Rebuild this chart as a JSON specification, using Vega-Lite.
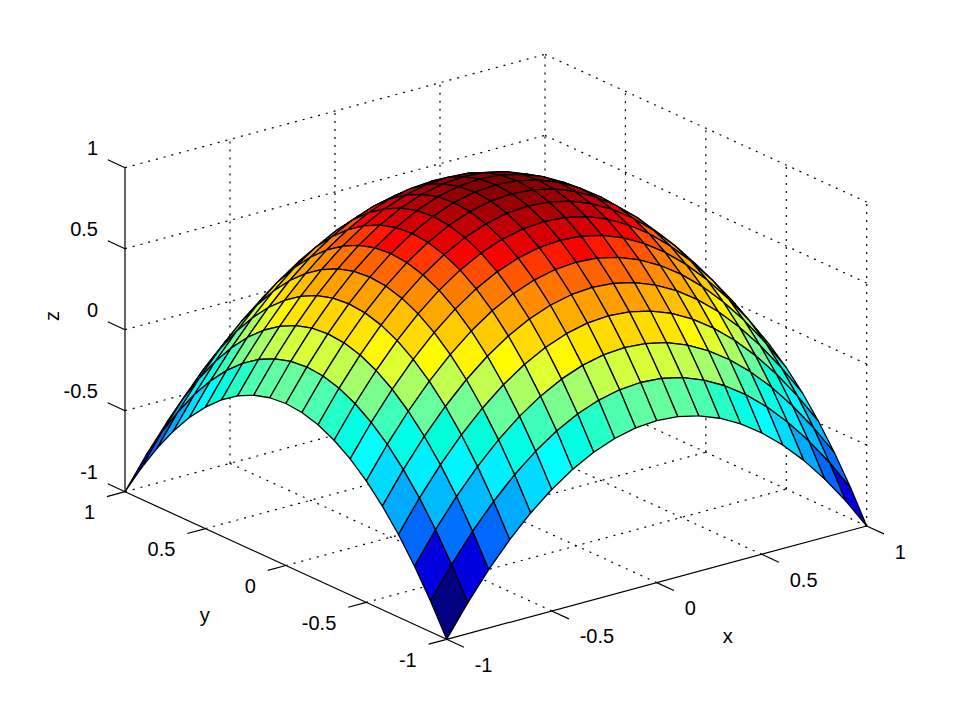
{
"$schema": "https://vega.github.io/schema/vega-lite/v6.json",
"width": 958,
"height": 719,
"padding": 0,
"autosize": {"type": "none"},
"background": "white",
"config": {"view": {"stroke": null}, "text": {"font": "Liberation Sans", "color": "black"}},
"datasets": {
"frame": [
{"line":"g1","x":-0.5,"y":-1,"z":-1},{"line":"g1","x":-0.5,"y":1,"z":-1},
{"line":"g2","x":0,"y":-1,"z":-1},{"line":"g2","x":0,"y":1,"z":-1},
{"line":"g3","x":0.5,"y":-1,"z":-1},{"line":"g3","x":0.5,"y":1,"z":-1},
{"line":"g4","x":1,"y":-1,"z":-1},{"line":"g4","x":1,"y":1,"z":-1},
{"line":"g5","x":-1,"y":-0.5,"z":-1},{"line":"g5","x":1,"y":-0.5,"z":-1},
{"line":"g6","x":-1,"y":0,"z":-1},{"line":"g6","x":1,"y":0,"z":-1},
{"line":"g7","x":-1,"y":0.5,"z":-1},{"line":"g7","x":1,"y":0.5,"z":-1},
{"line":"g8","x":-1,"y":1,"z":-1},{"line":"g8","x":1,"y":1,"z":-1},
{"line":"g9","x":-0.5,"y":1,"z":-1},{"line":"g9","x":-0.5,"y":1,"z":1},
{"line":"g10","x":0,"y":1,"z":-1},{"line":"g10","x":0,"y":1,"z":1},
{"line":"g11","x":0.5,"y":1,"z":-1},{"line":"g11","x":0.5,"y":1,"z":1},
{"line":"g12","x":1,"y":1,"z":-1},{"line":"g12","x":1,"y":1,"z":1},
{"line":"g13","x":-1,"y":1,"z":-0.5},{"line":"g13","x":1,"y":1,"z":-0.5},
{"line":"g14","x":-1,"y":1,"z":0},{"line":"g14","x":1,"y":1,"z":0},
{"line":"g15","x":-1,"y":1,"z":0.5},{"line":"g15","x":1,"y":1,"z":0.5},
{"line":"g16","x":-1,"y":1,"z":1},{"line":"g16","x":1,"y":1,"z":1},
{"line":"g17","x":1,"y":-1,"z":-1},{"line":"g17","x":1,"y":-1,"z":1},
{"line":"g18","x":1,"y":-0.5,"z":-1},{"line":"g18","x":1,"y":-0.5,"z":1},
{"line":"g19","x":1,"y":0,"z":-1},{"line":"g19","x":1,"y":0,"z":1},
{"line":"g20","x":1,"y":0.5,"z":-1},{"line":"g20","x":1,"y":0.5,"z":1},
{"line":"g21","x":1,"y":-1,"z":-0.5},{"line":"g21","x":1,"y":1,"z":-0.5},
{"line":"g22","x":1,"y":-1,"z":0},{"line":"g22","x":1,"y":1,"z":0},
{"line":"g23","x":1,"y":-1,"z":0.5},{"line":"g23","x":1,"y":1,"z":0.5},
{"line":"g24","x":1,"y":-1,"z":1},{"line":"g24","x":1,"y":1,"z":1}
],
"axes": [
{"line":"xaxis","x":-1,"y":-1,"z":-1},{"line":"xaxis","x":1,"y":-1,"z":-1},
{"line":"yaxis","x":-1,"y":-1,"z":-1},{"line":"yaxis","x":-1,"y":1,"z":-1},
{"line":"zaxis","x":-1,"y":1,"z":-1},{"line":"zaxis","x":-1,"y":1,"z":1},
{"line":"xt1","x":-1,"y":-1,"z":-1},{"line":"xt1","x":-1,"y":-1.107,"z":-1},
{"line":"xt2","x":-0.5,"y":-1,"z":-1},{"line":"xt2","x":-0.5,"y":-1.107,"z":-1},
{"line":"xt3","x":0,"y":-1,"z":-1},{"line":"xt3","x":0,"y":-1.107,"z":-1},
{"line":"xt4","x":0.5,"y":-1,"z":-1},{"line":"xt4","x":0.5,"y":-1.107,"z":-1},
{"line":"xt5","x":1,"y":-1,"z":-1},{"line":"xt5","x":1,"y":-1.107,"z":-1},
{"line":"yt1","x":-1,"y":-1,"z":-1},{"line":"yt1","x":-1.086,"y":-1,"z":-1},
{"line":"yt2","x":-1,"y":-0.5,"z":-1},{"line":"yt2","x":-1.086,"y":-0.5,"z":-1},
{"line":"yt3","x":-1,"y":0,"z":-1},{"line":"yt3","x":-1.086,"y":0,"z":-1},
{"line":"yt4","x":-1,"y":0.5,"z":-1},{"line":"yt4","x":-1.086,"y":0.5,"z":-1},
{"line":"yt5","x":-1,"y":1,"z":-1},{"line":"yt5","x":-1.086,"y":1,"z":-1},
{"line":"zt1","x":-1,"y":1,"z":-1},{"line":"zt1","x":-1,"y":1.107,"z":-1},
{"line":"zt2","x":-1,"y":1,"z":-0.5},{"line":"zt2","x":-1,"y":1.107,"z":-0.5},
{"line":"zt3","x":-1,"y":1,"z":0},{"line":"zt3","x":-1,"y":1.107,"z":0},
{"line":"zt4","x":-1,"y":1,"z":0.5},{"line":"zt4","x":-1,"y":1.107,"z":0.5},
{"line":"zt5","x":-1,"y":1,"z":1},{"line":"zt5","x":-1,"y":1.107,"z":1}
],
"xlabels": [
{"label":"-1","x":-1,"y":-1,"z":-1},{"label":"-0.5","x":-0.5,"y":-1,"z":-1},{"label":"0","x":0,"y":-1,"z":-1},{"label":"0.5","x":0.5,"y":-1,"z":-1},{"label":"1","x":1,"y":-1,"z":-1}
],
"ylabels": [
{"label":"-1","x":-1,"y":-1,"z":-1},{"label":"-0.5","x":-1,"y":-0.5,"z":-1},{"label":"0","x":-1,"y":0,"z":-1},{"label":"0.5","x":-1,"y":0.5,"z":-1},{"label":"1","x":-1,"y":1,"z":-1}
],
"zlabels": [
{"label":"-1","x":-1,"y":1,"z":-1},{"label":"-0.5","x":-1,"y":1,"z":-0.5},{"label":"0","x":-1,"y":1,"z":0},{"label":"0.5","x":-1,"y":1,"z":0.5},{"label":"1","x":-1,"y":1,"z":1}
],
"xtitle": [{"label":"x","x":0,"y":-1,"z":-1}],
"ytitle": [{"label":"y","x":-1,"y":0,"z":-1}],
"ztitle": [{"label":"z","x":-1,"y":1,"z":0}],
"surface": [
{"x":1,"y":1,"z":-1},{"x":0.9,"y":1,"z":-0.81},{"x":0.8,"y":1,"z":-0.64},{"x":0.7,"y":1,"z":-0.49},{"x":0.6,"y":1,"z":-0.36},{"x":0.5,"y":1,"z":-0.25},{"x":0.4,"y":1,"z":-0.16},{"x":0.3,"y":1,"z":-0.09},{"x":0.2,"y":1,"z":-0.04},{"x":0.1,"y":1,"z":-0.01},{"x":0,"y":1,"z":0},{"x":-0.1,"y":1,"z":-0.01},{"x":-0.2,"y":1,"z":-0.04},{"x":-0.3,"y":1,"z":-0.09},{"x":-0.4,"y":1,"z":-0.16},{"x":-0.5,"y":1,"z":-0.25},{"x":-0.6,"y":1,"z":-0.36},{"x":-0.7,"y":1,"z":-0.49},{"x":-0.8,"y":1,"z":-0.64},{"x":-0.9,"y":1,"z":-0.81},{"x":-1,"y":1,"z":-1},
{"x":1,"y":0.9,"z":-0.81},{"x":0.9,"y":0.9,"z":-0.62},{"x":0.8,"y":0.9,"z":-0.45},{"x":0.7,"y":0.9,"z":-0.3},{"x":0.6,"y":0.9,"z":-0.17},{"x":0.5,"y":0.9,"z":-0.06},{"x":0.4,"y":0.9,"z":0.03},{"x":0.3,"y":0.9,"z":0.1},{"x":0.2,"y":0.9,"z":0.15},{"x":0.1,"y":0.9,"z":0.18},{"x":0,"y":0.9,"z":0.19},{"x":-0.1,"y":0.9,"z":0.18},{"x":-0.2,"y":0.9,"z":0.15},{"x":-0.3,"y":0.9,"z":0.1},{"x":-0.4,"y":0.9,"z":0.03},{"x":-0.5,"y":0.9,"z":-0.06},{"x":-0.6,"y":0.9,"z":-0.17},{"x":-0.7,"y":0.9,"z":-0.3},{"x":-0.8,"y":0.9,"z":-0.45},{"x":-0.9,"y":0.9,"z":-0.62},{"x":-1,"y":0.9,"z":-0.81},
{"x":1,"y":0.8,"z":-0.64},{"x":0.9,"y":0.8,"z":-0.45},{"x":0.8,"y":0.8,"z":-0.28},{"x":0.7,"y":0.8,"z":-0.13},{"x":0.6,"y":0.8,"z":0},{"x":0.5,"y":0.8,"z":0.11},{"x":0.4,"y":0.8,"z":0.2},{"x":0.3,"y":0.8,"z":0.27},{"x":0.2,"y":0.8,"z":0.32},{"x":0.1,"y":0.8,"z":0.35},{"x":0,"y":0.8,"z":0.36},{"x":-0.1,"y":0.8,"z":0.35},{"x":-0.2,"y":0.8,"z":0.32},{"x":-0.3,"y":0.8,"z":0.27},{"x":-0.4,"y":0.8,"z":0.2},{"x":-0.5,"y":0.8,"z":0.11},{"x":-0.6,"y":0.8,"z":0},{"x":-0.7,"y":0.8,"z":-0.13},{"x":-0.8,"y":0.8,"z":-0.28},{"x":-0.9,"y":0.8,"z":-0.45},{"x":-1,"y":0.8,"z":-0.64},
{"x":1,"y":0.7,"z":-0.49},{"x":0.9,"y":0.7,"z":-0.3},{"x":0.8,"y":0.7,"z":-0.13},{"x":0.7,"y":0.7,"z":0.02},{"x":0.6,"y":0.7,"z":0.15},{"x":0.5,"y":0.7,"z":0.26},{"x":0.4,"y":0.7,"z":0.35},{"x":0.3,"y":0.7,"z":0.42},{"x":0.2,"y":0.7,"z":0.47},{"x":0.1,"y":0.7,"z":0.5},{"x":0,"y":0.7,"z":0.51},{"x":-0.1,"y":0.7,"z":0.5},{"x":-0.2,"y":0.7,"z":0.47},{"x":-0.3,"y":0.7,"z":0.42},{"x":-0.4,"y":0.7,"z":0.35},{"x":-0.5,"y":0.7,"z":0.26},{"x":-0.6,"y":0.7,"z":0.15},{"x":-0.7,"y":0.7,"z":0.02},{"x":-0.8,"y":0.7,"z":-0.13},{"x":-0.9,"y":0.7,"z":-0.3},{"x":-1,"y":0.7,"z":-0.49},
{"x":1,"y":0.6,"z":-0.36},{"x":0.9,"y":0.6,"z":-0.17},{"x":0.8,"y":0.6,"z":0},{"x":0.7,"y":0.6,"z":0.15},{"x":0.6,"y":0.6,"z":0.28},{"x":0.5,"y":0.6,"z":0.39},{"x":0.4,"y":0.6,"z":0.48},{"x":0.3,"y":0.6,"z":0.55},{"x":0.2,"y":0.6,"z":0.6},{"x":0.1,"y":0.6,"z":0.63},{"x":0,"y":0.6,"z":0.64},{"x":-0.1,"y":0.6,"z":0.63},{"x":-0.2,"y":0.6,"z":0.6},{"x":-0.3,"y":0.6,"z":0.55},{"x":-0.4,"y":0.6,"z":0.48},{"x":-0.5,"y":0.6,"z":0.39},{"x":-0.6,"y":0.6,"z":0.28},{"x":-0.7,"y":0.6,"z":0.15},{"x":-0.8,"y":0.6,"z":0},{"x":-0.9,"y":0.6,"z":-0.17},{"x":-1,"y":0.6,"z":-0.36},
{"x":1,"y":0.5,"z":-0.25},{"x":0.9,"y":0.5,"z":-0.06},{"x":0.8,"y":0.5,"z":0.11},{"x":0.7,"y":0.5,"z":0.26},{"x":0.6,"y":0.5,"z":0.39},{"x":0.5,"y":0.5,"z":0.5},{"x":0.4,"y":0.5,"z":0.59},{"x":0.3,"y":0.5,"z":0.66},{"x":0.2,"y":0.5,"z":0.71},{"x":0.1,"y":0.5,"z":0.74},{"x":0,"y":0.5,"z":0.75},{"x":-0.1,"y":0.5,"z":0.74},{"x":-0.2,"y":0.5,"z":0.71},{"x":-0.3,"y":0.5,"z":0.66},{"x":-0.4,"y":0.5,"z":0.59},{"x":-0.5,"y":0.5,"z":0.5},{"x":-0.6,"y":0.5,"z":0.39},{"x":-0.7,"y":0.5,"z":0.26},{"x":-0.8,"y":0.5,"z":0.11},{"x":-0.9,"y":0.5,"z":-0.06},{"x":-1,"y":0.5,"z":-0.25},
{"x":1,"y":0.4,"z":-0.16},{"x":0.9,"y":0.4,"z":0.03},{"x":0.8,"y":0.4,"z":0.2},{"x":0.7,"y":0.4,"z":0.35},{"x":0.6,"y":0.4,"z":0.48},{"x":0.5,"y":0.4,"z":0.59},{"x":0.4,"y":0.4,"z":0.68},{"x":0.3,"y":0.4,"z":0.75},{"x":0.2,"y":0.4,"z":0.8},{"x":0.1,"y":0.4,"z":0.83},{"x":0,"y":0.4,"z":0.84},{"x":-0.1,"y":0.4,"z":0.83},{"x":-0.2,"y":0.4,"z":0.8},{"x":-0.3,"y":0.4,"z":0.75},{"x":-0.4,"y":0.4,"z":0.68},{"x":-0.5,"y":0.4,"z":0.59},{"x":-0.6,"y":0.4,"z":0.48},{"x":-0.7,"y":0.4,"z":0.35},{"x":-0.8,"y":0.4,"z":0.2},{"x":-0.9,"y":0.4,"z":0.03},{"x":-1,"y":0.4,"z":-0.16},
{"x":1,"y":0.3,"z":-0.09},{"x":0.9,"y":0.3,"z":0.1},{"x":0.8,"y":0.3,"z":0.27},{"x":0.7,"y":0.3,"z":0.42},{"x":0.6,"y":0.3,"z":0.55},{"x":0.5,"y":0.3,"z":0.66},{"x":0.4,"y":0.3,"z":0.75},{"x":0.3,"y":0.3,"z":0.82},{"x":0.2,"y":0.3,"z":0.87},{"x":0.1,"y":0.3,"z":0.9},{"x":0,"y":0.3,"z":0.91},{"x":-0.1,"y":0.3,"z":0.9},{"x":-0.2,"y":0.3,"z":0.87},{"x":-0.3,"y":0.3,"z":0.82},{"x":-0.4,"y":0.3,"z":0.75},{"x":-0.5,"y":0.3,"z":0.66},{"x":-0.6,"y":0.3,"z":0.55},{"x":-0.7,"y":0.3,"z":0.42},{"x":-0.8,"y":0.3,"z":0.27},{"x":-0.9,"y":0.3,"z":0.1},{"x":-1,"y":0.3,"z":-0.09},
{"x":1,"y":0.2,"z":-0.04},{"x":0.9,"y":0.2,"z":0.15},{"x":0.8,"y":0.2,"z":0.32},{"x":0.7,"y":0.2,"z":0.47},{"x":0.6,"y":0.2,"z":0.6},{"x":0.5,"y":0.2,"z":0.71},{"x":0.4,"y":0.2,"z":0.8},{"x":0.3,"y":0.2,"z":0.87},{"x":0.2,"y":0.2,"z":0.92},{"x":0.1,"y":0.2,"z":0.95},{"x":0,"y":0.2,"z":0.96},{"x":-0.1,"y":0.2,"z":0.95},{"x":-0.2,"y":0.2,"z":0.92},{"x":-0.3,"y":0.2,"z":0.87},{"x":-0.4,"y":0.2,"z":0.8},{"x":-0.5,"y":0.2,"z":0.71},{"x":-0.6,"y":0.2,"z":0.6},{"x":-0.7,"y":0.2,"z":0.47},{"x":-0.8,"y":0.2,"z":0.32},{"x":-0.9,"y":0.2,"z":0.15},{"x":-1,"y":0.2,"z":-0.04},
{"x":1,"y":0.1,"z":-0.01},{"x":0.9,"y":0.1,"z":0.18},{"x":0.8,"y":0.1,"z":0.35},{"x":0.7,"y":0.1,"z":0.5},{"x":0.6,"y":0.1,"z":0.63},{"x":0.5,"y":0.1,"z":0.74},{"x":0.4,"y":0.1,"z":0.83},{"x":0.3,"y":0.1,"z":0.9},{"x":0.2,"y":0.1,"z":0.95},{"x":0.1,"y":0.1,"z":0.98},{"x":0,"y":0.1,"z":0.99},{"x":-0.1,"y":0.1,"z":0.98},{"x":-0.2,"y":0.1,"z":0.95},{"x":-0.3,"y":0.1,"z":0.9},{"x":-0.4,"y":0.1,"z":0.83},{"x":-0.5,"y":0.1,"z":0.74},{"x":-0.6,"y":0.1,"z":0.63},{"x":-0.7,"y":0.1,"z":0.5},{"x":-0.8,"y":0.1,"z":0.35},{"x":-0.9,"y":0.1,"z":0.18},{"x":-1,"y":0.1,"z":-0.01},
{"x":1,"y":0,"z":0},{"x":0.9,"y":0,"z":0.19},{"x":0.8,"y":0,"z":0.36},{"x":0.7,"y":0,"z":0.51},{"x":0.6,"y":0,"z":0.64},{"x":0.5,"y":0,"z":0.75},{"x":0.4,"y":0,"z":0.84},{"x":0.3,"y":0,"z":0.91},{"x":0.2,"y":0,"z":0.96},{"x":0.1,"y":0,"z":0.99},{"x":0,"y":0,"z":1},{"x":-0.1,"y":0,"z":0.99},{"x":-0.2,"y":0,"z":0.96},{"x":-0.3,"y":0,"z":0.91},{"x":-0.4,"y":0,"z":0.84},{"x":-0.5,"y":0,"z":0.75},{"x":-0.6,"y":0,"z":0.64},{"x":-0.7,"y":0,"z":0.51},{"x":-0.8,"y":0,"z":0.36},{"x":-0.9,"y":0,"z":0.19},{"x":-1,"y":0,"z":0},
{"x":1,"y":-0.1,"z":-0.01},{"x":0.9,"y":-0.1,"z":0.18},{"x":0.8,"y":-0.1,"z":0.35},{"x":0.7,"y":-0.1,"z":0.5},{"x":0.6,"y":-0.1,"z":0.63},{"x":0.5,"y":-0.1,"z":0.74},{"x":0.4,"y":-0.1,"z":0.83},{"x":0.3,"y":-0.1,"z":0.9},{"x":0.2,"y":-0.1,"z":0.95},{"x":0.1,"y":-0.1,"z":0.98},{"x":0,"y":-0.1,"z":0.99},{"x":-0.1,"y":-0.1,"z":0.98},{"x":-0.2,"y":-0.1,"z":0.95},{"x":-0.3,"y":-0.1,"z":0.9},{"x":-0.4,"y":-0.1,"z":0.83},{"x":-0.5,"y":-0.1,"z":0.74},{"x":-0.6,"y":-0.1,"z":0.63},{"x":-0.7,"y":-0.1,"z":0.5},{"x":-0.8,"y":-0.1,"z":0.35},{"x":-0.9,"y":-0.1,"z":0.18},{"x":-1,"y":-0.1,"z":-0.01},
{"x":1,"y":-0.2,"z":-0.04},{"x":0.9,"y":-0.2,"z":0.15},{"x":0.8,"y":-0.2,"z":0.32},{"x":0.7,"y":-0.2,"z":0.47},{"x":0.6,"y":-0.2,"z":0.6},{"x":0.5,"y":-0.2,"z":0.71},{"x":0.4,"y":-0.2,"z":0.8},{"x":0.3,"y":-0.2,"z":0.87},{"x":0.2,"y":-0.2,"z":0.92},{"x":0.1,"y":-0.2,"z":0.95},{"x":0,"y":-0.2,"z":0.96},{"x":-0.1,"y":-0.2,"z":0.95},{"x":-0.2,"y":-0.2,"z":0.92},{"x":-0.3,"y":-0.2,"z":0.87},{"x":-0.4,"y":-0.2,"z":0.8},{"x":-0.5,"y":-0.2,"z":0.71},{"x":-0.6,"y":-0.2,"z":0.6},{"x":-0.7,"y":-0.2,"z":0.47},{"x":-0.8,"y":-0.2,"z":0.32},{"x":-0.9,"y":-0.2,"z":0.15},{"x":-1,"y":-0.2,"z":-0.04},
{"x":1,"y":-0.3,"z":-0.09},{"x":0.9,"y":-0.3,"z":0.1},{"x":0.8,"y":-0.3,"z":0.27},{"x":0.7,"y":-0.3,"z":0.42},{"x":0.6,"y":-0.3,"z":0.55},{"x":0.5,"y":-0.3,"z":0.66},{"x":0.4,"y":-0.3,"z":0.75},{"x":0.3,"y":-0.3,"z":0.82},{"x":0.2,"y":-0.3,"z":0.87},{"x":0.1,"y":-0.3,"z":0.9},{"x":0,"y":-0.3,"z":0.91},{"x":-0.1,"y":-0.3,"z":0.9},{"x":-0.2,"y":-0.3,"z":0.87},{"x":-0.3,"y":-0.3,"z":0.82},{"x":-0.4,"y":-0.3,"z":0.75},{"x":-0.5,"y":-0.3,"z":0.66},{"x":-0.6,"y":-0.3,"z":0.55},{"x":-0.7,"y":-0.3,"z":0.42},{"x":-0.8,"y":-0.3,"z":0.27},{"x":-0.9,"y":-0.3,"z":0.1},{"x":-1,"y":-0.3,"z":-0.09},
{"x":1,"y":-0.4,"z":-0.16},{"x":0.9,"y":-0.4,"z":0.03},{"x":0.8,"y":-0.4,"z":0.2},{"x":0.7,"y":-0.4,"z":0.35},{"x":0.6,"y":-0.4,"z":0.48},{"x":0.5,"y":-0.4,"z":0.59},{"x":0.4,"y":-0.4,"z":0.68},{"x":0.3,"y":-0.4,"z":0.75},{"x":0.2,"y":-0.4,"z":0.8},{"x":0.1,"y":-0.4,"z":0.83},{"x":0,"y":-0.4,"z":0.84},{"x":-0.1,"y":-0.4,"z":0.83},{"x":-0.2,"y":-0.4,"z":0.8},{"x":-0.3,"y":-0.4,"z":0.75},{"x":-0.4,"y":-0.4,"z":0.68},{"x":-0.5,"y":-0.4,"z":0.59},{"x":-0.6,"y":-0.4,"z":0.48},{"x":-0.7,"y":-0.4,"z":0.35},{"x":-0.8,"y":-0.4,"z":0.2},{"x":-0.9,"y":-0.4,"z":0.03},{"x":-1,"y":-0.4,"z":-0.16},
{"x":1,"y":-0.5,"z":-0.25},{"x":0.9,"y":-0.5,"z":-0.06},{"x":0.8,"y":-0.5,"z":0.11},{"x":0.7,"y":-0.5,"z":0.26},{"x":0.6,"y":-0.5,"z":0.39},{"x":0.5,"y":-0.5,"z":0.5},{"x":0.4,"y":-0.5,"z":0.59},{"x":0.3,"y":-0.5,"z":0.66},{"x":0.2,"y":-0.5,"z":0.71},{"x":0.1,"y":-0.5,"z":0.74},{"x":0,"y":-0.5,"z":0.75},{"x":-0.1,"y":-0.5,"z":0.74},{"x":-0.2,"y":-0.5,"z":0.71},{"x":-0.3,"y":-0.5,"z":0.66},{"x":-0.4,"y":-0.5,"z":0.59},{"x":-0.5,"y":-0.5,"z":0.5},{"x":-0.6,"y":-0.5,"z":0.39},{"x":-0.7,"y":-0.5,"z":0.26},{"x":-0.8,"y":-0.5,"z":0.11},{"x":-0.9,"y":-0.5,"z":-0.06},{"x":-1,"y":-0.5,"z":-0.25},
{"x":1,"y":-0.6,"z":-0.36},{"x":0.9,"y":-0.6,"z":-0.17},{"x":0.8,"y":-0.6,"z":0},{"x":0.7,"y":-0.6,"z":0.15},{"x":0.6,"y":-0.6,"z":0.28},{"x":0.5,"y":-0.6,"z":0.39},{"x":0.4,"y":-0.6,"z":0.48},{"x":0.3,"y":-0.6,"z":0.55},{"x":0.2,"y":-0.6,"z":0.6},{"x":0.1,"y":-0.6,"z":0.63},{"x":0,"y":-0.6,"z":0.64},{"x":-0.1,"y":-0.6,"z":0.63},{"x":-0.2,"y":-0.6,"z":0.6},{"x":-0.3,"y":-0.6,"z":0.55},{"x":-0.4,"y":-0.6,"z":0.48},{"x":-0.5,"y":-0.6,"z":0.39},{"x":-0.6,"y":-0.6,"z":0.28},{"x":-0.7,"y":-0.6,"z":0.15},{"x":-0.8,"y":-0.6,"z":0},{"x":-0.9,"y":-0.6,"z":-0.17},{"x":-1,"y":-0.6,"z":-0.36},
{"x":1,"y":-0.7,"z":-0.49},{"x":0.9,"y":-0.7,"z":-0.3},{"x":0.8,"y":-0.7,"z":-0.13},{"x":0.7,"y":-0.7,"z":0.02},{"x":0.6,"y":-0.7,"z":0.15},{"x":0.5,"y":-0.7,"z":0.26},{"x":0.4,"y":-0.7,"z":0.35},{"x":0.3,"y":-0.7,"z":0.42},{"x":0.2,"y":-0.7,"z":0.47},{"x":0.1,"y":-0.7,"z":0.5},{"x":0,"y":-0.7,"z":0.51},{"x":-0.1,"y":-0.7,"z":0.5},{"x":-0.2,"y":-0.7,"z":0.47},{"x":-0.3,"y":-0.7,"z":0.42},{"x":-0.4,"y":-0.7,"z":0.35},{"x":-0.5,"y":-0.7,"z":0.26},{"x":-0.6,"y":-0.7,"z":0.15},{"x":-0.7,"y":-0.7,"z":0.02},{"x":-0.8,"y":-0.7,"z":-0.13},{"x":-0.9,"y":-0.7,"z":-0.3},{"x":-1,"y":-0.7,"z":-0.49},
{"x":1,"y":-0.8,"z":-0.64},{"x":0.9,"y":-0.8,"z":-0.45},{"x":0.8,"y":-0.8,"z":-0.28},{"x":0.7,"y":-0.8,"z":-0.13},{"x":0.6,"y":-0.8,"z":0},{"x":0.5,"y":-0.8,"z":0.11},{"x":0.4,"y":-0.8,"z":0.2},{"x":0.3,"y":-0.8,"z":0.27},{"x":0.2,"y":-0.8,"z":0.32},{"x":0.1,"y":-0.8,"z":0.35},{"x":0,"y":-0.8,"z":0.36},{"x":-0.1,"y":-0.8,"z":0.35},{"x":-0.2,"y":-0.8,"z":0.32},{"x":-0.3,"y":-0.8,"z":0.27},{"x":-0.4,"y":-0.8,"z":0.2},{"x":-0.5,"y":-0.8,"z":0.11},{"x":-0.6,"y":-0.8,"z":0},{"x":-0.7,"y":-0.8,"z":-0.13},{"x":-0.8,"y":-0.8,"z":-0.28},{"x":-0.9,"y":-0.8,"z":-0.45},{"x":-1,"y":-0.8,"z":-0.64},
{"x":1,"y":-0.9,"z":-0.81},{"x":0.9,"y":-0.9,"z":-0.62},{"x":0.8,"y":-0.9,"z":-0.45},{"x":0.7,"y":-0.9,"z":-0.3},{"x":0.6,"y":-0.9,"z":-0.17},{"x":0.5,"y":-0.9,"z":-0.06},{"x":0.4,"y":-0.9,"z":0.03},{"x":0.3,"y":-0.9,"z":0.1},{"x":0.2,"y":-0.9,"z":0.15},{"x":0.1,"y":-0.9,"z":0.18},{"x":0,"y":-0.9,"z":0.19},{"x":-0.1,"y":-0.9,"z":0.18},{"x":-0.2,"y":-0.9,"z":0.15},{"x":-0.3,"y":-0.9,"z":0.1},{"x":-0.4,"y":-0.9,"z":0.03},{"x":-0.5,"y":-0.9,"z":-0.06},{"x":-0.6,"y":-0.9,"z":-0.17},{"x":-0.7,"y":-0.9,"z":-0.3},{"x":-0.8,"y":-0.9,"z":-0.45},{"x":-0.9,"y":-0.9,"z":-0.62},{"x":-1,"y":-0.9,"z":-0.81},
{"x":1,"y":-1,"z":-1},{"x":0.9,"y":-1,"z":-0.81},{"x":0.8,"y":-1,"z":-0.64},{"x":0.7,"y":-1,"z":-0.49},{"x":0.6,"y":-1,"z":-0.36},{"x":0.5,"y":-1,"z":-0.25},{"x":0.4,"y":-1,"z":-0.16},{"x":0.3,"y":-1,"z":-0.09},{"x":0.2,"y":-1,"z":-0.04},{"x":0.1,"y":-1,"z":-0.01},{"x":0,"y":-1,"z":0},{"x":-0.1,"y":-1,"z":-0.01},{"x":-0.2,"y":-1,"z":-0.04},{"x":-0.3,"y":-1,"z":-0.09},{"x":-0.4,"y":-1,"z":-0.16},{"x":-0.5,"y":-1,"z":-0.25},{"x":-0.6,"y":-1,"z":-0.36},{"x":-0.7,"y":-1,"z":-0.49},{"x":-0.8,"y":-1,"z":-0.64},{"x":-0.9,"y":-1,"z":-0.81},{"x":-1,"y":-1,"z":-1}
]
},
"encoding": {
"x": {"field": "sx", "type": "quantitative", "scale": {"domain": [0, 958], "nice": false, "zero": false}, "axis": null},
"y": {"field": "sy", "type": "quantitative", "scale": {"domain": [719, 0], "nice": false, "zero": false}, "axis": null}
},
"layer": [
{
"data": {"name": "frame"},
"transform": [
{"calculate": "495.85+210*datum.x-160.85*datum.y", "as": "sx"},
{"calculate": "346.85-56.65*datum.x-73.8*datum.y-162*datum.z", "as": "sy"}
],
"mark": {"type": "line", "stroke": "black", "strokeWidth": 1.2, "strokeDash": [2, 6]},
"encoding": {"detail": {"field": "line"}}
},
{
"data": {"name": "axes"},
"transform": [
{"calculate": "495.85+210*datum.x-160.85*datum.y", "as": "sx"},
{"calculate": "346.85-56.65*datum.x-73.8*datum.y-162*datum.z", "as": "sy"}
],
"mark": {"type": "line", "stroke": "black", "strokeWidth": 1.2},
"encoding": {"detail": {"field": "line"}}
},
{
"data": {"name": "surface"},
"transform": [
{"calculate": "[{di:0,dj:0,o:0},{di:1,dj:0,o:1},{di:1,dj:1,o:2},{di:0,dj:1,o:3},{di:0,dj:0,o:4}]", "as": "corner"},
{"flatten": ["corner"]},
{"calculate": "round((datum.x+1)*10)-datum.corner.di", "as": "ci"},
{"calculate": "round((datum.y+1)*10)-datum.corner.dj", "as": "cj"},
{"filter": "datum.ci>=0 && datum.ci<20 && datum.cj>=0 && datum.cj<20"},
{"calculate": "'c'+datum.ci+'_'+datum.cj", "as": "cell"},
{"calculate": "datum.corner.o", "as": "o"},
{"window": [{"op": "first_value", "field": "z", "as": "cz"}], "sort": [{"field": "o", "order": "ascending"}], "groupby": ["cell"]},
{"calculate": "495.85+210*datum.x-160.85*datum.y", "as": "sx"},
{"calculate": "346.85-56.65*datum.x-73.8*datum.y-162*datum.z", "as": "sy"}
],
"mark": {"type": "line", "stroke": "black", "strokeWidth": 1.3, "strokeJoin": "round"},
"encoding": {
"detail": {"field": "cell"},
"order": {"field": "o", "type": "quantitative"},
"fill": {"field": "cz", "type": "quantitative", "legend": null,
"scale": {"domain": [-1, -0.75, -0.25, 0.25, 0.75, 1], "range": ["#000080", "#0000ff", "#00ffff", "#ffff00", "#ff0000", "#800000"]}}
}
},
{
"data": {"name": "xlabels"},
"transform": [
{"calculate": "495.85+210*datum.x-160.85*datum.y", "as": "sx"},
{"calculate": "346.85-56.65*datum.x-73.8*datum.y-162*datum.z", "as": "sy"}
],
"mark": {"type": "text", "fontSize": 20, "align": "left", "baseline": "middle", "dx": 28, "dy": 26.5},
"encoding": {"text": {"field": "label"}}
},
{
"data": {"name": "ylabels"},
"transform": [
{"calculate": "495.85+210*datum.x-160.85*datum.y", "as": "sx"},
{"calculate": "346.85-56.65*datum.x-73.8*datum.y-162*datum.z", "as": "sy"}
],
"mark": {"type": "text", "fontSize": 20, "align": "right", "baseline": "middle", "dx": -30, "dy": 21.3},
"encoding": {"text": {"field": "label"}}
},
{
"data": {"name": "zlabels"},
"transform": [
{"calculate": "495.85+210*datum.x-160.85*datum.y", "as": "sx"},
{"calculate": "346.85-56.65*datum.x-73.8*datum.y-162*datum.z", "as": "sy"}
],
"mark": {"type": "text", "fontSize": 20, "align": "right", "baseline": "middle", "dx": -27, "dy": -18.7},
"encoding": {"text": {"field": "label"}}
},
{
"data": {"name": "xtitle"},
"transform": [
{"calculate": "495.85+210*datum.x-160.85*datum.y", "as": "sx"},
{"calculate": "346.85-56.65*datum.x-73.8*datum.y-162*datum.z", "as": "sy"}
],
"mark": {"type": "text", "fontSize": 20, "align": "center", "baseline": "middle", "dx": 71, "dy": 54},
"encoding": {"text": {"field": "label"}}
},
{
"data": {"name": "ytitle"},
"transform": [
{"calculate": "495.85+210*datum.x-160.85*datum.y", "as": "sx"},
{"calculate": "346.85-56.65*datum.x-73.8*datum.y-162*datum.z", "as": "sy"}
],
"mark": {"type": "text", "fontSize": 20, "align": "center", "baseline": "middle", "dx": -81, "dy": 50},
"encoding": {"text": {"field": "label"}}
},
{
"data": {"name": "ztitle"},
"transform": [
{"calculate": "495.85+210*datum.x-160.85*datum.y", "as": "sx"},
{"calculate": "346.85-56.65*datum.x-73.8*datum.y-162*datum.z", "as": "sy"}
],
"mark": {"type": "text", "fontSize": 20, "align": "center", "baseline": "middle", "angle": 270, "dx": 13.7, "dy": -72},
"encoding": {"text": {"field": "label"}}
}
]
}
